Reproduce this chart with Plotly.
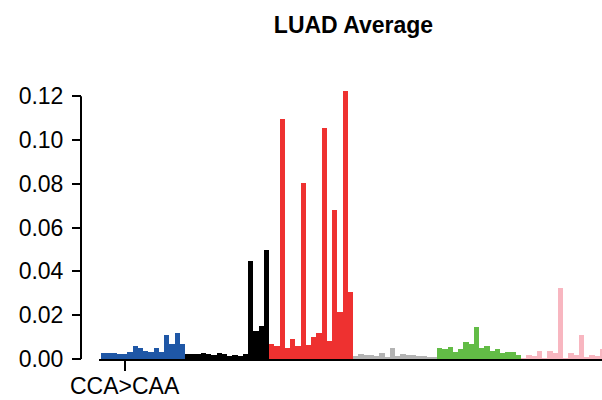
import plotly.graph_objects as go

# Mutation classes and their 16 trinucleotide contexts each
mutation_types = ["C>A", "C>G", "C>T", "T>A", "T>C", "T>G"]
bases = ["A", "C", "G", "T"]
colors = ["#1F57A6", "#000000", "#EE3130", "#B3B3B3", "#62BC46", "#F8B6C0"]

# Values (per class, 16 contexts: ANA..TNT)
ca_vals = [0.0026, 0.0026, 0.0026, 0.0022, 0.0022, 0.0031, 0.0058, 0.0049,
           0.0035, 0.0031, 0.0049, 0.0031, 0.0108, 0.0067, 0.0118, 0.0067]
cg_vals = [0.0022, 0.0022, 0.0022, 0.0026, 0.0023, 0.0017, 0.0026, 0.0022,
           0.0016, 0.0017, 0.0013, 0.0022, 0.0448, 0.0128, 0.0150, 0.0497]
ct_vals = [0.0068, 0.0058, 0.1095, 0.0051, 0.0090, 0.0058, 0.0803, 0.0063,
           0.0099, 0.0118, 0.1054, 0.0081, 0.0679, 0.0214, 0.1223, 0.0305]
ta_vals = [0.0013, 0.0022, 0.0017, 0.0017, 0.0013, 0.0026, 0.0011, 0.0049,
           0.0013, 0.0022, 0.0017, 0.0017, 0.0013, 0.0013, 0.0008, 0.0008]
tc_vals = [0.0049, 0.0045, 0.0054, 0.0031, 0.0045, 0.0076, 0.0067, 0.0145,
           0.0049, 0.0058, 0.0035, 0.0045, 0.0026, 0.0031, 0.0031, 0.0017]
tg_vals = [0.0003, 0.0017, 0.0013, 0.0035, 0.0003, 0.0035, 0.0026, 0.0323,
           0.0003, 0.0026, 0.0017, 0.0108, 0.0008, 0.0017, 0.0013, 0.0045]

y_ticks = [0.00, 0.02, 0.04, 0.06, 0.08, 0.10, 0.12]
x_tick_labels = ["CCA>CAA"]
title_text = "LUAD Average"

groups = [ca_vals, cg_vals, ct_vals, ta_vals, tc_vals, tg_vals]

categories, values, bar_colors = [], [], []
for mt, vals, col in zip(mutation_types, groups, colors):
    ref, alt = mt.split(">")
    i = 0
    for a in bases:
        for b in bases:
            categories.append(f"{a}{ref}{b}>{a}{alt}{b}")
            values.append(vals[i])
            bar_colors.append(col)
            i += 1

fig = go.Figure()
fig.add_trace(go.Bar(
    x=categories, y=values,
    marker=dict(color=bar_colors, line=dict(width=0)),
    showlegend=False,
))

W, H = 602, 400
ml, mr, mt_, mb = 81, 0, 88, 41
plot_w = W - ml - mr
plot_h = H - mt_ - mb
x_start_px = 99
bar_px = 5.25
lo = -0.5 - (101 - x_start_px) / bar_px
hi = lo + (W - x_start_px) / bar_px
tick_span_px = 262.7  # pixel length from 0 to top tick in the reference
y_top = y_ticks[-1] * plot_h / tick_span_px

font_family = "Liberation Sans, Arial, Helvetica, sans-serif"

fig.update_layout(
    width=W, height=H,
    margin=dict(l=ml, r=mr, t=mt_, b=mb, pad=0),
    paper_bgcolor="white", plot_bgcolor="white",
    bargap=0,
    font=dict(family=font_family, color="black", size=23),
    title=dict(text=f"<b>{title_text}</b>", xref="container", yref="container",
               x=353.5 / W, xanchor="center", y=1 - 25 / H, yanchor="middle",
               font=dict(size=23, family=font_family, color="black")),
    xaxis=dict(
        domain=[(x_start_px - ml) / plot_w, 1],
        range=[lo, hi],
        type="category",
        automargin=False,
        showline=True, linecolor="black", linewidth=2,
        ticks="outside", ticklen=10, tickwidth=2, tickcolor="black",
        tickvals=x_tick_labels, ticktext=x_tick_labels,
        tickfont=dict(size=23),
        ticklabelstandoff=-5,
        showgrid=False, zeroline=False,
    ),
    yaxis=dict(
        anchor="free", position=0,
        range=[0, y_top],
        automargin=False,
        showline=False,
        ticks="outside", ticklen=9, tickwidth=2, tickcolor="black",
        tickvals=y_ticks, tickformat=".2f",
        tickfont=dict(size=23),
        ticklabelstandoff=4,
        showgrid=False, zeroline=False,
    ),
    shapes=[dict(type="line", xref="paper", yref="y",
                 x0=0, x1=0, y0=y_ticks[0], y1=y_ticks[-1],
                 line=dict(color="black", width=2))],
)

fig.write_html("out.html")
